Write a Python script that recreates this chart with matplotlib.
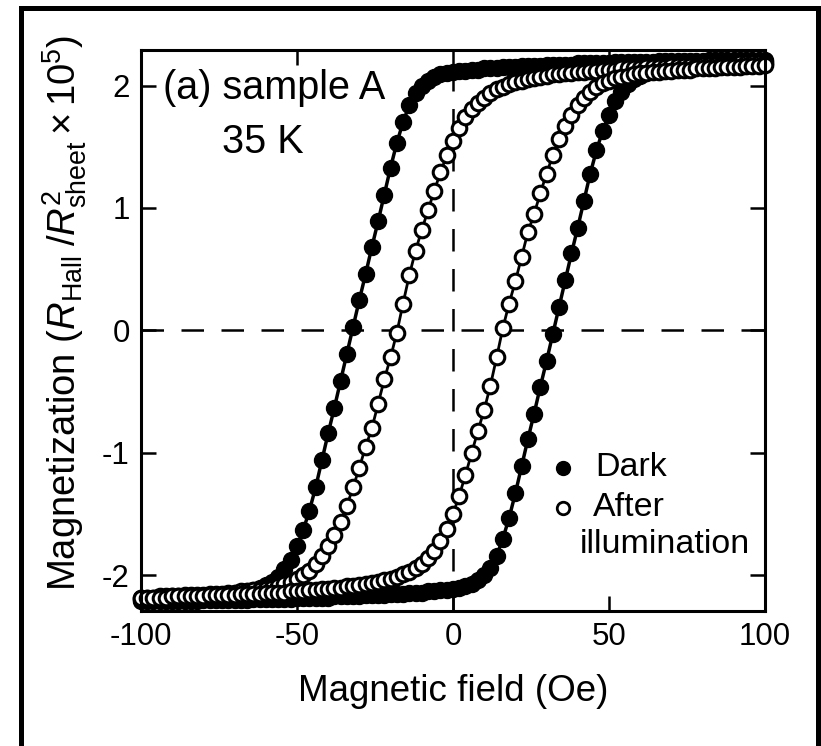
import matplotlib
matplotlib.use('Agg')
import matplotlib.pyplot as plt
from matplotlib.patches import Rectangle
from matplotlib import font_manager

# 字体：参考图是窄体 Arial 风格
names = {f.name for f in font_manager.fontManager.ttflist}
base = 'Liberation Sans Narrow' if 'Liberation Sans Narrow' in names else 'Liberation Sans'
plt.rcParams['font.family'] = [base, 'DejaVu Sans']
plt.rcParams['mathtext.fontset'] = 'custom'
plt.rcParams['mathtext.rm'] = base
plt.rcParams['mathtext.it'] = base + ':italic'

# 磁场扫描点 (Oe)
field = list(range(-100, 101, 2))

# Dark: 下降分支 (+100 -> -100)，按 field 顺序列出
dark_down = [
    -2.20, -2.20, -2.20, -2.19, -2.19, -2.19, -2.18, -2.18, -2.18, -2.17,
    -2.17, -2.17, -2.16, -2.16, -2.15, -2.14, -2.14, -2.13, -2.12, -2.10,
    -2.08, -2.05, -2.01, -1.95, -1.87, -1.76, -1.63, -1.47, -1.28, -1.06,
    -0.84, -0.63, -0.41, -0.19, 0.03, 0.25, 0.46, 0.68, 0.89, 1.11,
    1.33, 1.53, 1.70, 1.84, 1.94, 2.00, 2.04, 2.07, 2.09, 2.10,
    2.11,
    2.12, 2.12, 2.13, 2.13, 2.14, 2.14, 2.14, 2.15, 2.15, 2.15,
    2.16, 2.16, 2.16, 2.16, 2.17, 2.17, 2.17, 2.17, 2.17, 2.18,
    2.18, 2.18, 2.18, 2.18, 2.18, 2.19, 2.19, 2.19, 2.19, 2.19,
    2.19, 2.19, 2.20, 2.20, 2.20, 2.20, 2.20, 2.20, 2.20, 2.20,
    2.21, 2.21, 2.21, 2.21, 2.21, 2.21, 2.21, 2.21, 2.21, 2.21,
]
# Dark: 上升分支 (-100 -> +100)
dark_up = [
    -2.21, -2.21, -2.21, -2.21, -2.21, -2.21, -2.21, -2.21, -2.21, -2.21,
    -2.20, -2.20, -2.20, -2.20, -2.20, -2.20, -2.20, -2.20, -2.19, -2.19,
    -2.19, -2.19, -2.19, -2.19, -2.19, -2.18, -2.18, -2.18, -2.18, -2.18,
    -2.18, -2.17, -2.17, -2.17, -2.17, -2.17, -2.16, -2.16, -2.16, -2.16,
    -2.15, -2.15, -2.15, -2.14, -2.14, -2.14, -2.13, -2.13, -2.12, -2.12,
    -2.11,
    -2.10, -2.09, -2.07, -2.04, -2.00, -1.94, -1.84, -1.70, -1.53, -1.33,
    -1.11, -0.89, -0.68, -0.46, -0.25, -0.03, 0.19, 0.41, 0.63, 0.84,
    1.06, 1.28, 1.47, 1.63, 1.76, 1.87, 1.95, 2.01, 2.05, 2.08,
    2.10, 2.12, 2.13, 2.14, 2.14, 2.15, 2.16, 2.16, 2.17, 2.17,
    2.17, 2.18, 2.18, 2.18, 2.19, 2.19, 2.19, 2.20, 2.20, 2.20,
]
# After illumination: 下降分支
illum_down = [
    -2.18, -2.18, -2.18, -2.17, -2.17, -2.17, -2.17, -2.16, -2.16, -2.16,
    -2.16, -2.15, -2.15, -2.15, -2.14, -2.14, -2.13, -2.13, -2.12, -2.12,
    -2.11, -2.10, -2.09, -2.07, -2.05, -2.03, -2.00, -1.96, -1.91, -1.84,
    -1.76, -1.67, -1.56, -1.43, -1.28, -1.12, -0.95, -0.80, -0.60, -0.40,
    -0.22, -0.02, 0.22, 0.45, 0.65, 0.82, 0.98, 1.14, 1.29, 1.43,
    1.55,
    1.65, 1.74, 1.81, 1.86, 1.90, 1.94, 1.97, 1.99, 2.01, 2.03,
    2.04, 2.05, 2.06, 2.07, 2.08, 2.09, 2.09, 2.10, 2.10, 2.11,
    2.11, 2.12, 2.12, 2.13, 2.13, 2.13, 2.14, 2.14, 2.14, 2.14,
    2.15, 2.15, 2.15, 2.15, 2.16, 2.16, 2.16, 2.16, 2.16, 2.17,
    2.17, 2.17, 2.17, 2.17, 2.17, 2.18, 2.18, 2.18, 2.18, 2.18,
]
# After illumination: 上升分支
illum_up = [
    -2.18, -2.18, -2.18, -2.18, -2.18, -2.17, -2.17, -2.17, -2.17, -2.17,
    -2.17, -2.16, -2.16, -2.16, -2.16, -2.16, -2.15, -2.15, -2.15, -2.15,
    -2.14, -2.14, -2.14, -2.14, -2.13, -2.13, -2.13, -2.12, -2.12, -2.11,
    -2.11, -2.10, -2.10, -2.09, -2.09, -2.08, -2.07, -2.06, -2.05, -2.04,
    -2.03, -2.01, -1.99, -1.97, -1.94, -1.91, -1.86, -1.80, -1.72, -1.62,
    -1.50,
    -1.35, -1.18, -1.00, -0.82, -0.65, -0.45, -0.22, 0.02, 0.22, 0.40,
    0.60, 0.80, 0.95, 1.12, 1.28, 1.43, 1.56, 1.67, 1.76, 1.84,
    1.90, 1.95, 1.99, 2.02, 2.04, 2.06, 2.07, 2.08, 2.09, 2.10,
    2.10, 2.11, 2.11, 2.12, 2.12, 2.13, 2.13, 2.13, 2.14, 2.14,
    2.14, 2.14, 2.15, 2.15, 2.15, 2.15, 2.16, 2.16, 2.16, 2.17,
]

x_ticks = [-100, -50, 0, 50, 100]
y_ticks = [-2, -1, 0, 1, 2]

fig = plt.figure(figsize=(8.21, 7.46), dpi=100)
ax = fig.add_axes([0.1717, 0.181, 0.760, 0.752])

# 零线（虚线）
ax.axhline(0, color='black', lw=1.8, dashes=(9, 7), zorder=1)
ax.axvline(0, color='black', lw=1.8, dashes=(9, 7), zorder=1)

# Dark 回线：实心圆
for ys in (dark_down, dark_up):
    ax.plot(field, ys, color='black', lw=2.5, marker='o', ms=11.5,
            mfc='black', mec='black', clip_on=False, zorder=3)
# 光照后回线：空心圆
for ys in (illum_down, illum_up):
    ax.plot(field, ys, color='black', lw=2.0, marker='o', ms=10.5,
            mfc='white', mec='black', mew=2.2, clip_on=False, zorder=4)

ax.set_xlim(-100, 100)
ax.set_ylim(-2.29, 2.29)
ax.set_xticks(x_ticks)
ax.set_yticks(y_ticks)
ax.set_xticklabels([str(v) for v in x_ticks])
ax.set_yticklabels([str(v) for v in y_ticks])
ax.tick_params(direction='in', length=11, width=1.8, top=True, right=True,
               labelsize=22.5, pad=8)
for sp in ax.spines.values():
    sp.set_linewidth(2.2)
    sp.set_zorder(5)

ax.set_xlabel('Magnetic field (Oe)', fontsize=26.5, labelpad=16)
ax.set_ylabel(r'Magnetization ($R_{\rm Hall}\;/R^{2}_{\rm sheet}\times10^{5}$)',
              fontsize=27.5)
ax.yaxis.set_label_coords(-0.083, 0.531)

# 标注
ax.text(-93, 1.98, '(a) sample A', fontsize=28.5, va='center', ha='left')
ax.text(-74, 1.54, '35 K', fontsize=28.5, va='center', ha='left')

# 图例（手动）
ax.plot([0.676], [0.255], transform=ax.transAxes, marker='o', ms=10,
        mfc='black', mec='black', clip_on=False)
ax.plot([0.676], [0.184], transform=ax.transAxes, marker='o', ms=9,
        mfc='white', mec='black', mew=2.0, clip_on=False)
ax.text(0.7276, 0.255, 'Dark', transform=ax.transAxes, fontsize=24.5, va='center')
ax.text(0.724, 0.184, 'After', transform=ax.transAxes, fontsize=24.5, va='center')
ax.text(0.7035, 0.118, 'illumination', transform=ax.transAxes, fontsize=24.5, va='center')

# 外框
fig.patches.append(Rectangle((0.0256, -0.05), 0.9707, 1.0393, transform=fig.transFigure,
                             fill=False, lw=3.6, ec='black'))

fig.savefig('out.png', dpi=100)
